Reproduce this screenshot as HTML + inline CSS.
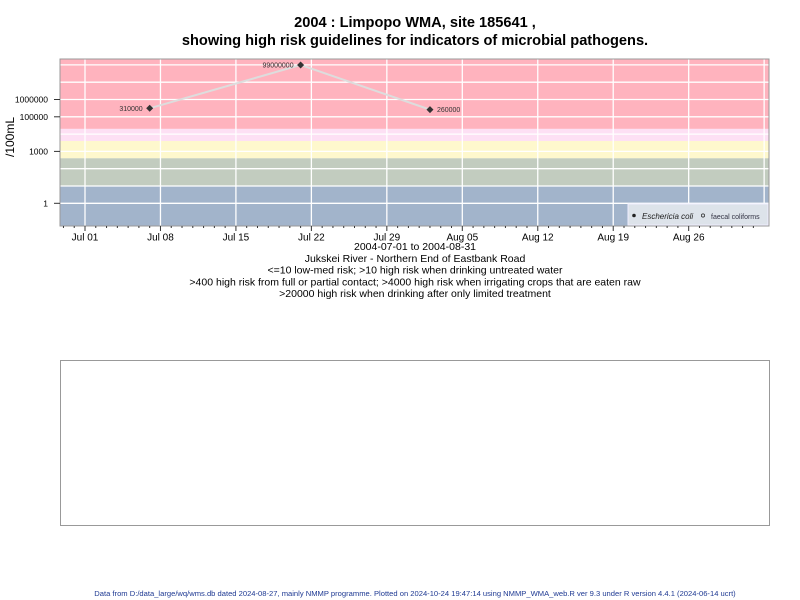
<!DOCTYPE html>
<html><head><meta charset="utf-8"><style>
html,body{margin:0;padding:0;background:#fff;}
svg{display:block;font-family:"Liberation Sans",Arial,sans-serif;}
</style></head><body>
<svg id="chart" width="800" height="600" viewBox="0 0 800 600">
<text x="415" y="27" text-anchor="middle" font-size="14.6" font-weight="bold">2004 : Limpopo WMA, site 185641 ,</text>
<text x="415" y="45" text-anchor="middle" font-size="14.6" font-weight="bold">showing high risk guidelines for indicators of microbial pathogens.</text>
<g id="plot"></g>
<text x="14" y="137" font-size="12" text-anchor="middle" transform="rotate(-90 14 137)">/100mL</text>
<g font-size="10.5" text-anchor="middle">
<text x="415" y="250">2004-07-01 to 2004-08-31</text>
<text x="415" y="262">Jukskei River - Northern End of Eastbank Road</text>
<text x="415" y="273.5">&lt;=10 low-med risk; &gt;10 high risk when drinking untreated water</text>
<text x="415" y="285.5">&gt;400 high risk from full or partial contact; &gt;4000 high risk when irrigating crops that are eaten raw</text>
<text x="415" y="297">&gt;20000 high risk when drinking after only limited treatment</text>
</g>
<rect x="60.5" y="360.5" width="709" height="165" fill="none" stroke="#999"/>
<text x="415" y="596" text-anchor="middle" font-size="7.6" fill="#1f3a93">Data from D:/data_large/wq/wms.db dated 2024-08-27, mainly NMMP programme. Plotted on 2024-10-24 19:47:14 using NMMP_WMA_web.R ver 9.3 under R version 4.4.1 (2024-06-14 ucrt)</text>
</svg>
<script>
const dayLabels = ["Jul 01","Jul 08","Jul 15","Jul 22","Jul 29","Aug 05","Aug 12","Aug 19","Aug 26"];
const yTickValues = [1, 1000, 100000, 1000000];
const yTickLabels = ["1","1000","100000","1000000"];
const bandLimits = [20000, 4000, 400, 10];
const sampleDays = [6, 20, 32];          // days after Jul 01
const ecoliValues = [310000, 99000000, 260000];
const ecoliLabels = ["310000","99000000","260000"];

const NS = "http://www.w3.org/2000/svg";
const L = 60, R = 769, T = 59, B = 226;
const x = d => 85 + d * 10.78;
const y = v => 203.3 - 17.3 * Math.log10(v);
const plot = document.getElementById('plot');
function mk(tag, attrs, parent) {
  const e = document.createElementNS(NS, tag);
  for (const k in attrs) e.setAttribute(k, attrs[k]);
  (parent || plot).appendChild(e);
  return e;
}
const bandColors = ["#ffb3be", "#fde0f4", "#fef8cd", "#c2ccbf", "#a2b4cb"];
const bandNames = ["band-above-20000","band-4000-20000","band-400-4000","band-10-400","band-below-10"];
let edges = [T, ...bandLimits.map(y), B];
for (let i = 0; i < 5; i++) {
  const r = mk('rect', {x: L, y: edges[i], width: R - L, height: edges[i+1] - edges[i], fill: bandColors[i]});
  
  
}
for (let p = 0; p <= 8; p++) {
  const yy = y(Math.pow(10, p));
  if (yy < T || yy > B) continue;
  const g = mk('line', {x1: L, x2: R, y1: yy, y2: yy, stroke: "#fff", "stroke-width": 1.3});
  
  
}
for (let d = 0; d <= 63; d += 7) {
  const g = mk('line', {x1: x(d), x2: x(d), y1: T, y2: B, stroke: "#fff", "stroke-width": 1.3});
  
  
}
const frame = mk('rect', {x: L, y: T, width: R - L, height: B - T, fill: "none", stroke: "#999"});


for (let d = -2; d <= 62; d++) {
  const major = d % 7 === 0;
  const t = mk('line', {x1: x(d), x2: x(d), y1: B, y2: B + (major ? 5 : 2), stroke: "#333"});
  
  
}
dayLabels.forEach((lab, i) => {
  const t = mk('text', {x: x(i * 7), y: 240.5, "text-anchor": "middle", "font-size": 10});
  t.textContent = lab;
  
  
});
yTickValues.forEach((v, i) => {
  const l = mk('line', {x1: L - 6, x2: L, y1: y(v), y2: y(v), stroke: "#333"});
  
  
  const t = mk('text', {x: L - 12, y: y(v) + 3, "text-anchor": "end", "font-size": 8.5});
  t.textContent = yTickLabels[i];
  
  
});
const pts = sampleDays.map((d, i) => x(d) + "," + y(ecoliValues[i])).join(" ");
const pl = mk('polyline', {points: pts, fill: "none", stroke: "#dddddd", "stroke-width": 2});


sampleDays.forEach((d, i) => {
  const cx = x(d), cy = y(ecoliValues[i]);
  const p = mk('path', {d: `M${cx},${cy-3.5}L${cx+3.5},${cy}L${cx},${cy+3.5}L${cx-3.5},${cy}Z`, fill: "#333"});
  
  
  const right = i === sampleDays.length - 1;
  const t = mk('text', {x: right ? cx + 7 : cx - 7, y: cy + 2.5, "text-anchor": right ? "start" : "end", "font-size": 7, fill: "#333"});
  t.textContent = ecoliLabels[i];
  
  
});
const lg = mk('g', {});


mk('rect', {x: 628, y: 204, width: 140, height: 21, fill: "#dde3ea", stroke: "#eef"}, lg);
mk('circle', {cx: 634, cy: 215.5, r: 1.8, fill: "#222"}, lg);
const t1 = mk('text', {x: 642, y: 219, "font-size": 8, "font-style": "italic", fill: "#222"}, lg);
t1.textContent = "Eschericia coli";


mk('circle', {cx: 703, cy: 215.5, r: 1.6, fill: "none", stroke: "#222", "stroke-width": 0.7}, lg);
const t2 = mk('text', {x: 711, y: 219, "font-size": 7, fill: "#334"}, lg);
t2.textContent = "faecal coliforms";


</script>
</body></html>
